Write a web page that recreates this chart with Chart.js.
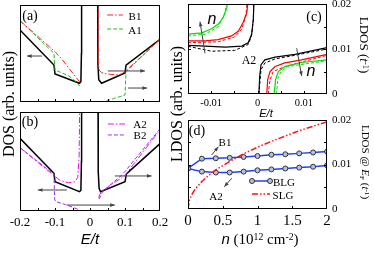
<!DOCTYPE html>
<html><head><meta charset="utf-8">
<script src="https://cdn.jsdelivr.net/npm/chart.js@4.4.1/dist/chart.umd.min.js"></script>
<style>
html,body{margin:0;padding:0;background:#fff;}
body{position:relative;width:374px;height:255px;overflow:hidden;font-family:"Liberation Serif","Times New Roman",serif;color:#000;}
canvas{position:absolute;left:0;top:0;}
.t{position:absolute;white-space:nowrap;line-height:1;transform:translate(-50%,-50%);}
.t.rl{transform:translate(-50%,-50%) rotate(-90deg);}
.t.rr{transform:translate(-50%,-50%) rotate(90deg);}
.sans{font-family:"Liberation Sans",Arial,sans-serif;font-style:italic;}
.it{font-style:italic;}
sup{font-size:65%;vertical-align:0.45em;line-height:0;}
sub{font-size:65%;vertical-align:-0.25em;line-height:0;}
</style></head><body>
<canvas id="ca" width="374" height="255"></canvas>
<canvas id="cb" width="374" height="255"></canvas>
<canvas id="cc" width="374" height="255"></canvas>
<canvas id="cd" width="374" height="255"></canvas>

<div class="t" style="left:30px;top:16px;font-size:14px">(a)</div>
<div class="t" style="left:30px;top:122px;font-size:14px">(b)</div>
<div class="t" style="left:314px;top:17px;font-size:14px">(c)</div>
<div class="t" style="left:197px;top:131px;font-size:14px">(d)</div>
<div class="t" style="left:135px;top:16px;font-size:11px">B1</div>
<div class="t" style="left:135px;top:30px;font-size:11px">A1</div>
<div class="t" style="left:140px;top:124px;font-size:11px">A2</div>
<div class="t" style="left:140px;top:135px;font-size:11px">B2</div>
<div class="t" style="left:249px;top:60px;font-size:12px">A2</div>
<div class="t sans" style="left:212px;top:19px;font-size:16px">n</div>
<div class="t sans" style="left:311px;top:71px;font-size:16px">n</div>
<div class="t" style="left:225px;top:142px;font-size:11px">B1</div>
<div class="t" style="left:216px;top:196px;font-size:11px">A2</div>
<div class="t" style="left:284px;top:182px;font-size:11px">BLG</div>
<div class="t" style="left:283px;top:195px;font-size:11px">SLG</div>
<div class="t sans" style="left:90px;top:238px;font-size:15px">E/t</div>
<div class="t sans" style="left:266px;top:113px;font-size:11px">E/t</div>
<div class="t" style="left:260px;top:239px;font-size:15px"><span class="sans">n</span> (10<sup>12</sup> cm<sup>-2</sup>)</div>
<div class="t rl" style="left:9px;top:104px;font-size:16px">DOS (arb. units)</div>
<div class="t rl" style="left:177px;top:104px;font-size:16px">LDOS (arb. units)</div>
<div class="t rr" style="left:364px;top:45px;font-size:13px">LDOS (<span class="it">t</span><sup>-1</sup>)</div>
<div class="t rr" style="left:365px;top:162px;font-size:11px">LDOS @ <span class="it">E</span><sub>F</sub> (<span class="it">t</span><sup>-1</sup>)</div>

<script>
// ---------- data: panel (a), x = E/t, y = DOS (arb. units) ----------
const aBlackL = [[-0.2,0.742],[-0.103,0.381],[-0.1,0.289],[-0.03,0.193],[-0.026,0.21],[-0.0245,0.5],[-0.024,1.05]];
const aBlackR = [[0.022,1.05],[0.0225,0.4],[0.025,0.23],[0.033,0.193],[0.1,0.30],[0.103,0.381],[0.2,0.646]];
const aB1L = [[-0.2,0.838],[-0.1,0.519],[-0.08,0.44],[-0.06,0.347],[-0.04,0.254],[-0.03,0.21],[-0.027,0.2]];
const aB1R = [[0.0235,1.05],[0.0238,0.40],[0.026,0.33],[0.033,0.302],[0.047,0.289],[0.075,0.28],[0.09,0.289],[0.1,0.313],[0.2,0.646]];
const aA1L = [[-0.2,0.838],[-0.103,0.502],[-0.1,0.33],[-0.08,0.3],[-0.06,0.268],[-0.04,0.21],[-0.03,0.165]];
const aA1R = [[0.03,0.0],[0.04,0.003],[0.07,0.038],[0.1,0.072],[0.103,0.313],[0.2,0.646]];
// ---------- panel (b) ----------
const bBlackL = [[-0.2,0.734],[-0.103,0.381],[-0.1,0.296],[-0.03,0.195],[-0.026,0.21],[-0.0245,0.5],[-0.024,1.05]];
const bBlackR = [[0.023,1.05],[0.0235,0.4],[0.026,0.23],[0.03,0.195],[0.1,0.296],[0.104,0.374],[0.2,0.68]];
const bA2L = [[-0.2,0.64],[-0.105,0.364],[-0.086,0.31],[-0.062,0.285],[-0.043,0.296],[-0.035,0.34],[-0.031,0.55],[-0.0295,1.05]];
const bA2R = [[0.025,0.13],[0.028,0.17],[0.035,0.2],[0.06,0.265],[0.09,0.335],[0.1,0.36],[0.2,0.82]];
const bB2L = [[-0.2,0.64],[-0.103,0.37],[-0.101,0.12],[-0.098,0.095],[-0.07,0.065],[-0.04,0.025],[-0.03,0.01]];
const bB2R = [[0.026,0.12],[0.035,0.19],[0.06,0.27],[0.09,0.36],[0.1,0.40],[0.2,0.83]];
// ---------- panel (c), x = E/t, y = LDOS (1/t) ----------
const cBlkL  = [[-0.015,0.0108],[-0.0113,0.01064],[-0.007,0.01041],[-0.0034,0.01064],[-0.002,0.0114],[-0.00126,0.01326],[-0.0009,0.0166],[-0.00075,0.021]];
const cBlkR  = [[0.0003,0],[0.00047,0.0039],[0.00076,0.0065],[0.0016,0.0076],[0.0038,0.0082],[0.0081,0.0088],[0.015,0.0103]];
const cBlkDL = [[-0.015,0.0106],[-0.0099,0.0095],[-0.0049,0.0097],[-0.002,0.011],[-0.0013,0.0129],[-0.0009,0.0166],[-0.0008,0.021]];
const cBlkDR = [[0.0003,0],[0.00076,0.0054],[0.0016,0.0069],[0.0038,0.0078],[0.0081,0.0086],[0.015,0.01]];
const cRedL  = [[-0.015,0.0118],[-0.0113,0.0118],[-0.0085,0.0121],[-0.0056,0.0129],[-0.0041,0.014],[-0.0031,0.0159],[-0.0023,0.0181],[-0.002,0.021]];
const cRedR  = [[0.002,0],[0.0022,0.0032],[0.0027,0.005],[0.0038,0.0061],[0.0059,0.0069],[0.0095,0.0076],[0.015,0.0088]];
const cRedDL = [[-0.015,0.0114],[-0.0085,0.0116],[-0.0049,0.0127],[-0.0034,0.0144],[-0.0025,0.0174],[-0.0022,0.021]];
const cRedDR = [[0.0023,0],[0.0027,0.0031],[0.0034,0.005],[0.0059,0.0061],[0.015,0.0086]];
const cGrnL  = [[-0.015,0.0133],[-0.012,0.0136],[-0.0099,0.0145],[-0.0085,0.0155],[-0.0074,0.017],[-0.0067,0.0189],[-0.0063,0.021]];
const cGrnR  = [[0.0036,0],[0.0039,0.0032],[0.0045,0.005],[0.0059,0.0061],[0.0095,0.007],[0.015,0.0076]];
const cGrnDL = [[-0.015,0.0129],[-0.0113,0.0133],[-0.0085,0.0149],[-0.0071,0.0178],[-0.0065,0.021]];
const cGrnDR = [[0.0041,0],[0.0044,0.0035],[0.0051,0.005],[0.0065,0.0061],[0.015,0.0074]];
// ---------- panel (d), x = n (1e12 cm^-2), y = LDOS @ EF ----------
const dN      = [0,0.2,0.4,0.6,0.8,1.0,1.2,1.4,1.6,1.8,2.0];
const dBLG_B1 = [0.0091,0.0113,0.0114,0.0115,0.0117,0.0119,0.0122,0.0123,0.0125,0.0127,0.0129];
const dBLG_A2 = [0.0091,0.0084,0.0082,0.0082,0.0084,0.0087,0.0089,0.0091,0.0093,0.0095,0.0098];
const dSLG_N  = [0,0.02,0.05,0.1,0.2,0.3,0.4,0.6,0.8,1.0,1.2,1.4,1.6,1.8,2.0];
const dSLG    = [0,0.002,0.0031,0.0044,0.0062,0.0076,0.0088,0.0107,0.0124,0.0139,0.0152,0.0164,0.0176,0.0186,0.0196];

const W = 374, H = 255;
const pts = a => a.map(p => ({x:p[0], y:p[1]}));
const zip = (xs, ys) => xs.map((x,i) => ({x, y:ys[i]}));
function sizer(sz){
  return s => {
    if (s.isHorizontal()) s.height = sz; else s.width = sz;
    s.paddingLeft = 0; s.paddingRight = 0; s.paddingTop = 0; s.paddingBottom = 0;
  };
}
function ln(data, color, width, dash){
  return {data, showLine:true, borderColor:color, backgroundColor:color, borderWidth:width,
    borderDash:dash||[], pointRadius:0, fill:false, tension:0, borderCapStyle:'butt'};
}
function arrowHead(ctx,x1,y1,x2,y2){
  ctx.beginPath(); ctx.moveTo(x1,y1); ctx.lineTo(x2,y2); ctx.stroke();
  const a = Math.atan2(y2-y1,x2-x1), h = 5;
  ctx.beginPath(); ctx.moveTo(x2,y2);
  ctx.lineTo(x2-h*Math.cos(a-0.38), y2-h*Math.sin(a-0.38));
  ctx.lineTo(x2-h*Math.cos(a+0.38), y2-h*Math.sin(a+0.38));
  ctx.closePath(); ctx.fill();
}
const framePlugin = {
  id:'frame',
  afterDatasetsDraw(chart, args, o){
    const {ctx, chartArea:a, scales:{x, y}} = chart;
    ctx.save();
    (o.legend||[]).forEach(L => {
      const x1 = x.getPixelForValue(L.x1), x2 = x.getPixelForValue(L.x2), yy = y.getPixelForValue(L.y);
      ctx.strokeStyle = L.color; ctx.lineWidth = L.width; ctx.setLineDash(L.dash||[]);
      ctx.beginPath(); ctx.moveTo(x1,yy); ctx.lineTo(x2,yy); ctx.stroke();
      ctx.setLineDash([]);
      if (L.marker){
        [x1,x2].forEach(px => { ctx.beginPath(); ctx.arc(px,yy,2.5,0,Math.PI*2);
          ctx.fillStyle='#b8c0d8'; ctx.fill(); ctx.strokeStyle='#333'; ctx.lineWidth=1; ctx.stroke(); });
      }
    });
    ctx.strokeStyle = '#444'; ctx.fillStyle = '#444'; ctx.lineWidth = 1;
    (o.arrows||[]).forEach(r => arrowHead(ctx, x.getPixelForValue(r[0]), y.getPixelForValue(r[1]),
      x.getPixelForValue(r[2]), y.getPixelForValue(r[3])));
    ctx.strokeStyle = '#000'; ctx.lineWidth = 1;
    ctx.strokeRect(a.left+0.5, a.top+0.5, a.right-a.left-1, a.bottom-a.top-1);
    const len = 3;
    ctx.beginPath();
    (o.xt||[]).forEach(v => { const px = Math.round(x.getPixelForValue(v))+0.5; ctx.moveTo(px,a.bottom); ctx.lineTo(px,a.bottom-len); });
    (o.yl||[]).forEach(v => { const py = Math.round(y.getPixelForValue(v))+0.5; ctx.moveTo(a.left,py); ctx.lineTo(a.left+len,py); });
    (o.yr||[]).forEach(v => { const py = Math.round(y.getPixelForValue(v))+0.5; ctx.moveTo(a.right,py); ctx.lineTo(a.right-len,py); });
    ctx.stroke();
    ctx.restore();
  }
};
// area = [left, top, right, bottom] of the plot rectangle; xs / ys = room given to the x / right-y tick labels
function build(id, area, xs, ys, datasets, scales, frame){
  return new Chart(document.getElementById(id), {
    type:'scatter',
    data:{datasets},
    options:{
      responsive:false, animation:false, events:[],
      layout:{padding:{left:area[0], top:area[1], right:W-area[2]-ys, bottom:H-area[3]-xs}},
      plugins:{legend:{display:false}, tooltip:{enabled:false}, frame},
      scales
    },
    plugins:[framePlugin]
  });
}
const serif = 'Liberation Serif';
function xAxis(min, max, step, size, pad, sz, cb){
  return {type:'linear', min, max, position:'bottom', afterFit:sizer(sz),
    grid:{display:false, drawTicks:false}, border:{display:false},
    ticks:{stepSize:step, autoSkip:false, maxRotation:0, padding:pad, color:'#000',
      font:{family:serif, size}, callback:cb}};
}
function yRight(min, max, step, size, pad, sz){
  return {type:'linear', min, max, position:'right', afterFit:sizer(sz),
    grid:{display:false, drawTicks:false}, border:{display:false},
    ticks:{stepSize:step, autoSkip:false, padding:pad, color:'#000', font:{family:serif, size},
      callback:v => String(Math.round(v*1000)/1000)}};
}
const hidden = (min,max) => ({type:'linear', min, max, display:false});
const RED='#ff2020', GRN='#22bb22', MAG='#ff00ff', PUR='#a030f0', BLK='#000';
const DD=[6,2,1.5,2], DS=[4,2];
const eTicks = [-0.15,-0.1,-0.05,0,0.05,0.1,0.15];

// (a)
build('ca',[20,5,160,102],0,0,[
  ln(pts(aB1L),RED,1,DD), ln(pts(aB1R),RED,1,DD),
  ln(pts(aA1L),GRN,1,DS), ln(pts(aA1R),GRN,1,DS),
  ln(pts(aBlackL),BLK,1.5), ln(pts(aBlackR),BLK,1.5)
],{x:hidden(-0.2,0.2), y:hidden(0,1)},{
  xt:eTicks,
  legend:[{x1:0.049,x2:0.094,y:0.897,color:RED,width:1,dash:DD},{x1:0.049,x2:0.094,y:0.753,color:GRN,width:1,dash:DS}],
  arrows:[[-0.137,0.474,-0.18,0.474],[0.051,0.32,0.157,0.32],[0.109,0.144,0.163,0.144]]
});
// (b)
build('cb',[20,112,160,211],25,0,[
  ln(pts(bA2L),MAG,1,DD), ln(pts(bA2R),MAG,1,DD),
  ln(pts(bB2L),PUR,1,DS), ln(pts(bB2R),PUR,1,DS),
  ln(pts(bBlackL),BLK,1.5), ln(pts(bBlackR),BLK,1.5)
],{x:xAxis(-0.2,0.2,0.05,13,4,25,v=>{const r=Math.round(v*100);return r%10===0?String(r/100):'';}), y:hidden(0,1)},{
  xt:eTicks,
  legend:[{x1:0.051,x2:0.1,y:0.879,color:MAG,width:1,dash:DD},{x1:0.051,x2:0.1,y:0.768,color:PUR,width:1,dash:DS}],
  arrows:[[-0.066,0.212,-0.149,0.212],[-0.066,0.06,0.071,0.06],[0.071,0.354,0.176,0.354]]
});
// (c)
const CR='#ff0000', CG='#00e000', CD=[3,2];
build('cc',[188,4,327,94],18,38,[
  ln(pts(cGrnL),CG,1.2), ln(pts(cGrnR),CG,1.2), ln(pts(cGrnDL),CG,1,CD), ln(pts(cGrnDR),CG,1,CD),
  ln(pts(cRedL),CR,1.2), ln(pts(cRedR),CR,1.2), ln(pts(cRedDL),CR,1,CD), ln(pts(cRedDR),CR,1,CD),
  ln(pts(cBlkL),BLK,1.2), ln(pts(cBlkR),BLK,1.2), ln(pts(cBlkDL),BLK,1,CD), ln(pts(cBlkDR),BLK,1,CD)
],{x:xAxis(-0.015,0.015,0.005,10.5,3,18,v=>{const r=Math.round(v*1000);return r%10===0?String(r/1000):'';}), y:yRight(0,0.02,0.01,11,5,38)},{
  xt:[-0.01,-0.005,0,0.005,0.01], yl:[0.005,0.01,0.015], yr:[0.005,0.01,0.015],
  arrows:[[-0.01133,0.00904,-0.01241,0.01607],[0.00846,0.01016,0.00954,0.004]]
});
// (d)
build('cd',[188,120,327,209],22,38,[
  ln(zip(dSLG_N,dSLG),'#ff1010',1.5,[6,2,1.5,2,1.5,2]),
  Object.assign(ln(zip(dN,dBLG_B1),'#2040ff',1.5),{pointRadius:2.5,pointBorderColor:'#333',pointBackgroundColor:'#b8c0d8',pointBorderWidth:1}),
  Object.assign(ln(zip(dN,dBLG_A2),'#2040ff',1.5),{pointRadius:2.5,pointBorderColor:'#333',pointBackgroundColor:'#b8c0d8',pointBorderWidth:1})
],{x:xAxis(0,2,0.5,15,3,22,v=>String(Math.round(v*10)/10)), y:yRight(0,0.02,0.01,11,5,38)},{
  xt:[0.5,1,1.5], yl:[0.005,0.01,0.015], yr:[0.005,0.01,0.015],
  legend:[{x1:0.921,x2:1.18,y:0.00629,color:'#2040ff',width:1.5,marker:true},{x1:0.921,x2:1.18,y:0.00337,color:'#ff1010',width:1.5,dash:[6,2,1.5,2,1.5,2]}],
  arrows:[[0.341,0.01213,0.436,0.014],[0.629,0.0069,0.522,0.005]]
});
</script>
</body></html>
